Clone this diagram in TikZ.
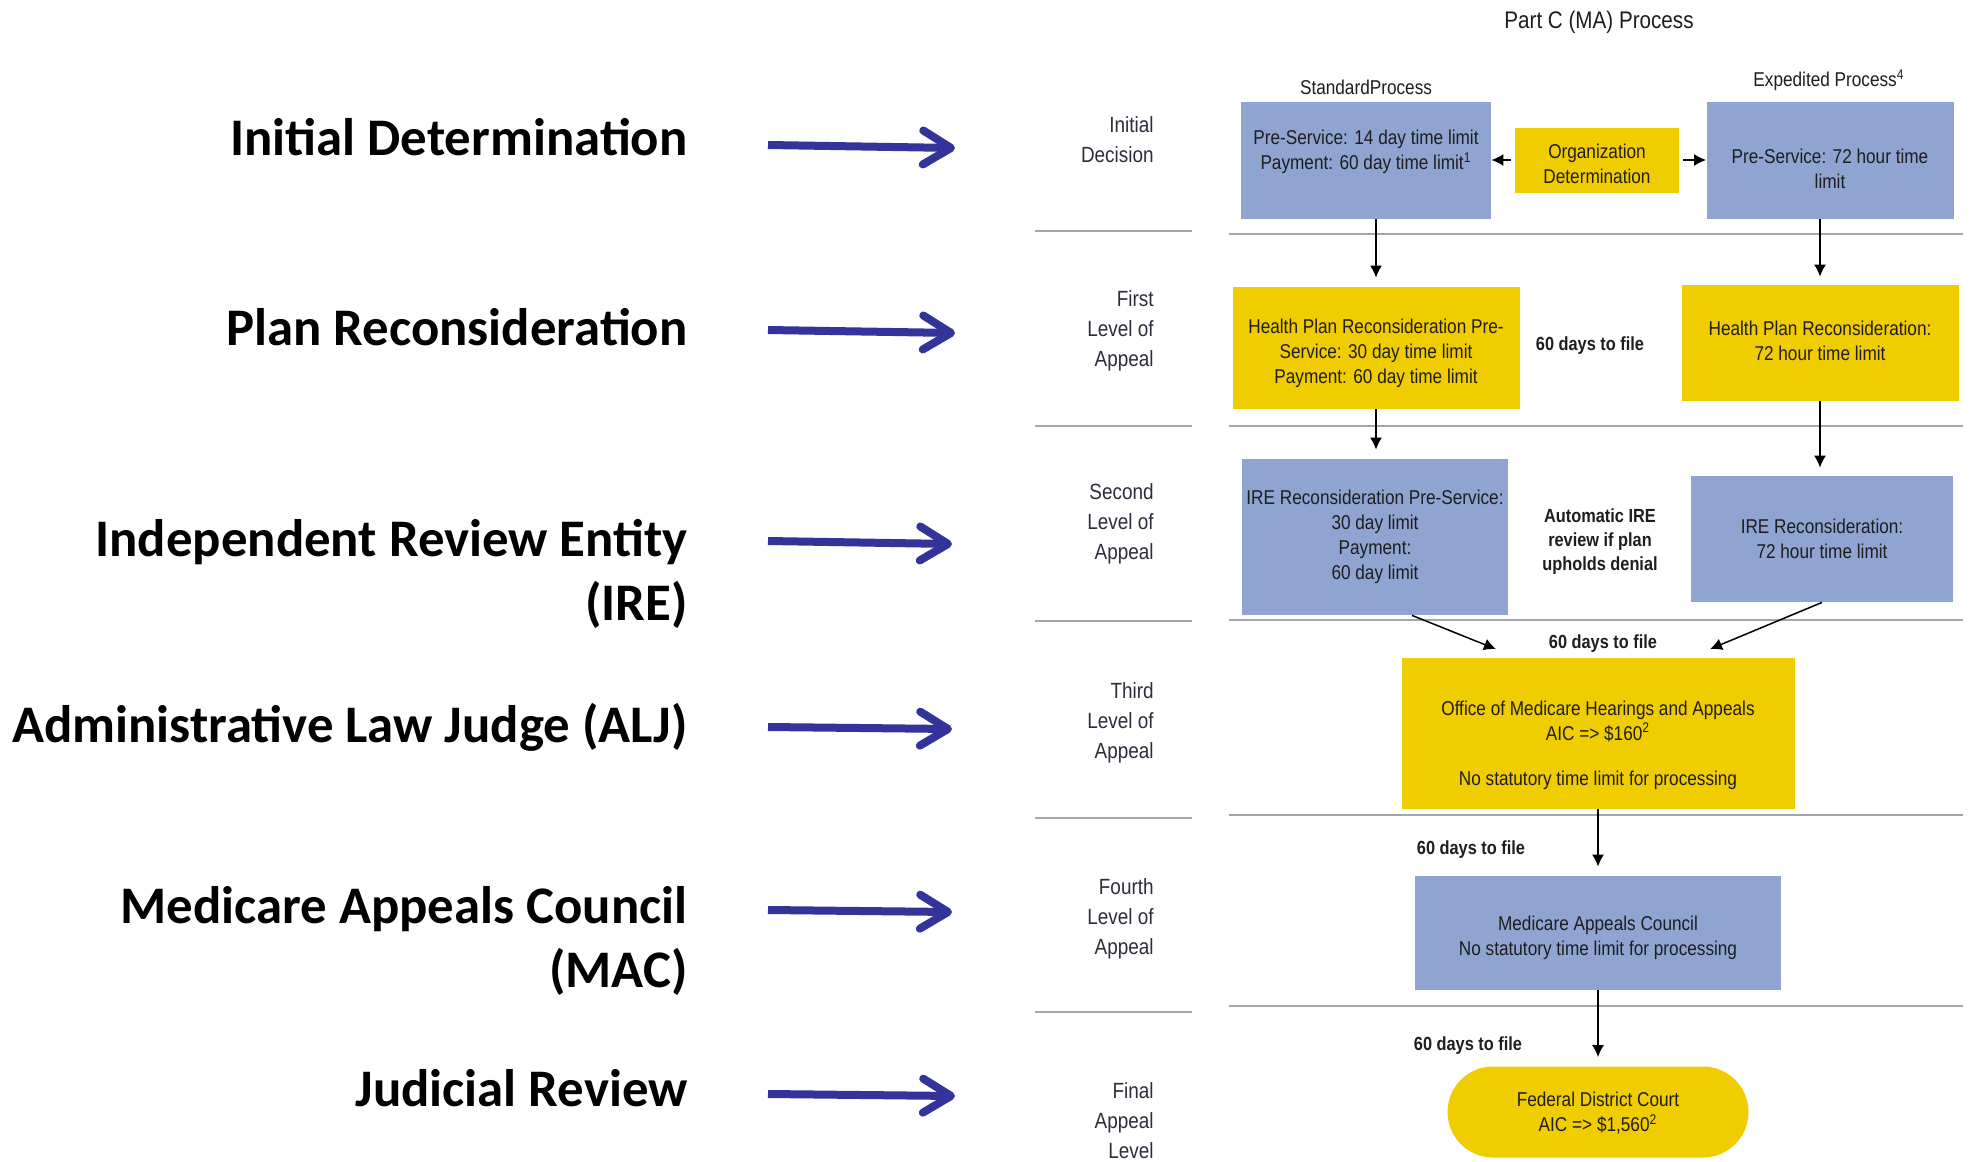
\documentclass[tikz,border=0pt]{standalone}
\usepackage{fontspec}
\setmainfont{Liberation Sans}
\newfontfamily\narrowf[FakeStretch=0.86]{Liberation Sans}
\newfontfamily\calibf{Carlito}
\usetikzlibrary{arrows.meta,shapes.misc,calc}
\definecolor{boxblue}{RGB}{143,164,208}
\definecolor{boxyellow}{RGB}{240,205,0}
\definecolor{arrowblue}{RGB}{51,51,153}
\definecolor{rulegray}{RGB}{166,166,166}
\definecolor{txt}{RGB}{30,30,30}
\definecolor{lvltxt}{RGB}{45,45,60}
\begin{document}
\begin{tikzpicture}[x=0.5pt,y=-0.5pt,
  boxtext/.style={inner sep=0pt, align=center, text=txt,
    font=\narrowf\fontsize{10pt}{12.5pt}\selectfont},
  bluebox/.style={inner sep=0pt, fill=boxblue},
  yellowbox/.style={inner sep=0pt, fill=boxyellow},
  note/.style={inner sep=0pt, align=center, text=txt,
    font=\narrowf\bfseries\fontsize{9.5pt}{12pt}\selectfont},
  head/.style={inner sep=0pt, text=txt, font=\narrowf\fontsize{10pt}{12pt}\selectfont},
  lvl/.style={inner sep=0pt, align=right, anchor=east, text=lvltxt,
    font=\narrowf\fontsize{11pt}{15pt}\selectfont},
  biglabel/.style={inner sep=0pt, anchor=base east, text=black,
    font=\calibf\bfseries\fontsize{26.4pt}{32pt}\selectfont},
  bigarrow/.style={draw=arrowblue, line width=4pt,
    -{Straight Barb[length=14pt,width=17pt,round]}},
  flow/.style={draw=black, line width=0.75pt, -{Latex[length=6pt,width=6pt]}},
  rule/.style={draw=rulegray, line width=1pt}
]
\fill[white] (0,0) rectangle (1971,1162);
\useasboundingbox (0,0) rectangle (1971,1162);

% horizontal rules
\foreach \yl/\yr in {231/234, 426/426, 621/620, 818/815, 1012/1006}{
  \draw[rule] (1035,\yl) -- (1192,\yl);
  \draw[rule] (1229,\yr) -- (1963,\yr);
}

% headings
\node[head, font=\narrowf\fontsize{12pt}{14pt}\selectfont] (title) at (1599,22) {Part C (MA) Process};
\node[head] (std) at (1366,87) {StandardProcess};
\node[head] (exp) at (1829,80) {Expedited Process\textsuperscript{4}};

% level labels
\node[lvl] (lv0) at (1154,140) {Initial\\Decision};
\node[lvl] (lv1) at (1154,331) {First\\Level of\\Appeal};
\node[lvl] (lv2) at (1154,524) {Second\\Level of\\Appeal};
\node[lvl] (lv3) at (1154,723) {Third\\Level of\\Appeal};
\node[lvl] (lv4) at (1154,919) {Fourth\\Level of\\Appeal};
\node[lvl] (lv5) at (1154,1121) {Final\\Appeal\\Level};

% left labels
\node[biglabel] (l1) at (688,155) {Initial Determination};
\node[biglabel] (l2) at (688,345) {Plan Reconsideration};
\node[biglabel] (l3) at (688,556) {Independent Review Entity};
\node[biglabel] (l3b) at (688,620) {(IRE)};
\node[biglabel] (l4) at (688,742) {Administrative Law Judge (ALJ)};
\node[biglabel] (l5) at (688,923) {Medicare Appeals Council};
\node[biglabel] (l5b) at (688,987) {(MAC)};
\node[biglabel] (l6) at (688,1106) {Judicial Review};

% left arrows
\coordinate (a1s) at (768,145); \coordinate (a1e) at (955,148);
\coordinate (a2s) at (768,330); \coordinate (a2e) at (955,333);
\coordinate (a3s) at (768,541); \coordinate (a3e) at (952,544);
\coordinate (a4s) at (768,727); \coordinate (a4e) at (952,729);
\coordinate (a5s) at (768,910); \coordinate (a5e) at (952,912);
\coordinate (a6s) at (768,1094); \coordinate (a6e) at (955,1096);
\foreach \i in {1,...,6}{ \draw[bigarrow] (a\i s) -- (a\i e); }

% boxes
\node[bluebox, minimum width=125pt, minimum height=58.5pt] (b1) at (1366,160) {};
\node[boxtext] (b1t) at ($(b1)+(0,-8)$)
  {Pre-Service: 14 day time limit\\Payment: 60 day time limit\textsuperscript{1}};
\node[yellowbox, minimum width=82pt, minimum height=32.5pt] (od) at (1597,160) {};
\node[boxtext] (odt) at ($(od)+(0,4)$) {Organization\\Determination};
\node[bluebox, minimum width=123.5pt, minimum height=58.5pt] (b2) at (1830,160) {};
\node[boxtext] (b2t) at ($(b2)+(0,9)$) {Pre-Service: 72 hour time\\limit};
\node[yellowbox, minimum width=143.5pt, minimum height=61pt] (h1) at (1376,348) {};
\node[boxtext] (h1t) at ($(h1)+(0,5)$)
  {Health Plan Reconsideration Pre-\\Service: 30 day time limit\\Payment: 60 day time limit};
\node[yellowbox, minimum width=138.5pt, minimum height=58pt] (h2) at (1820,343) {};
\node[boxtext] (h2t) at ($(h2)+(0,-2)$) {Health Plan Reconsideration:\\72 hour time limit};
\node[bluebox, minimum width=133pt, minimum height=78pt] (i1) at (1375,537) {};
\node[boxtext] (i1t) at (i1) {IRE Reconsideration Pre-Service:\\30 day limit\\Payment:\\60 day limit};
\node[bluebox, minimum width=131pt, minimum height=63pt] (i2) at (1822,539) {};
\node[boxtext] (i2t) at (i2) {IRE Reconsideration:\\72 hour time limit};
\node[note] (auto) at (1600,542) {Automatic IRE\\review if plan\\upholds denial};
\node[yellowbox, minimum width=196.5pt, minimum height=75.5pt] (omha) at (1598,733) {};
\node[boxtext] (omhat) at ($(omha)+(0,12)$)
  {Office of Medicare Hearings and Appeals\\AIC => \$160\textsuperscript{2}\\[10pt]No statutory time limit for processing};
\node[bluebox, minimum width=183pt, minimum height=57pt] (mac) at (1598,933) {};
\node[boxtext] (mact) at ($(mac)+(0,5)$) {Medicare Appeals Council\\No statutory time limit for processing};
\node[yellowbox, rounded rectangle, minimum width=150.5pt, minimum height=45.5pt] (fdc) at (1598,1112) {};
\node[boxtext] (fdct) at ($(fdc)+(0,1)$) {Federal District Court\\AIC => \$1,560\textsuperscript{2}};

% file notes
\node[note] (f1) at (1590,346) {60 days to file};
\node[note] (f2) at (1603,644) {60 days to file};
\node[note] (f3) at (1471,850) {60 days to file};
\node[note] (f4) at (1468,1046) {60 days to file};

% connectors
\draw[flow, shorten <=2pt] (od.west) -- (b1.east);
\draw[flow, shorten <=2pt] (od.east) -- (b2.west);
\draw[flow, shorten >=4.5pt] (b1.south -| h1.north) -- (h1.north);
\draw[flow, shorten >=4pt] (b2.south -| h2.north) -- (h2.north);
\draw[flow, shorten >=4.5pt] (h1.south) -- (h1.south |- i1.north);
\draw[flow, shorten >=4pt] (h2.south) -- (h2.south |- i2.north);
\draw[flow] ($(i1.south)+(37,0)$) -- ($(omha.north)+(-102,-8)$);
\draw[flow] (i2.south) -- ($(omha.north)+(112,-8)$);
\draw[flow, shorten >=4.5pt] (omha.south) -- (mac.north);
\draw[flow, shorten >=4.5pt] (mac.south) -- (fdc.north);
\end{tikzpicture}
\end{document}
